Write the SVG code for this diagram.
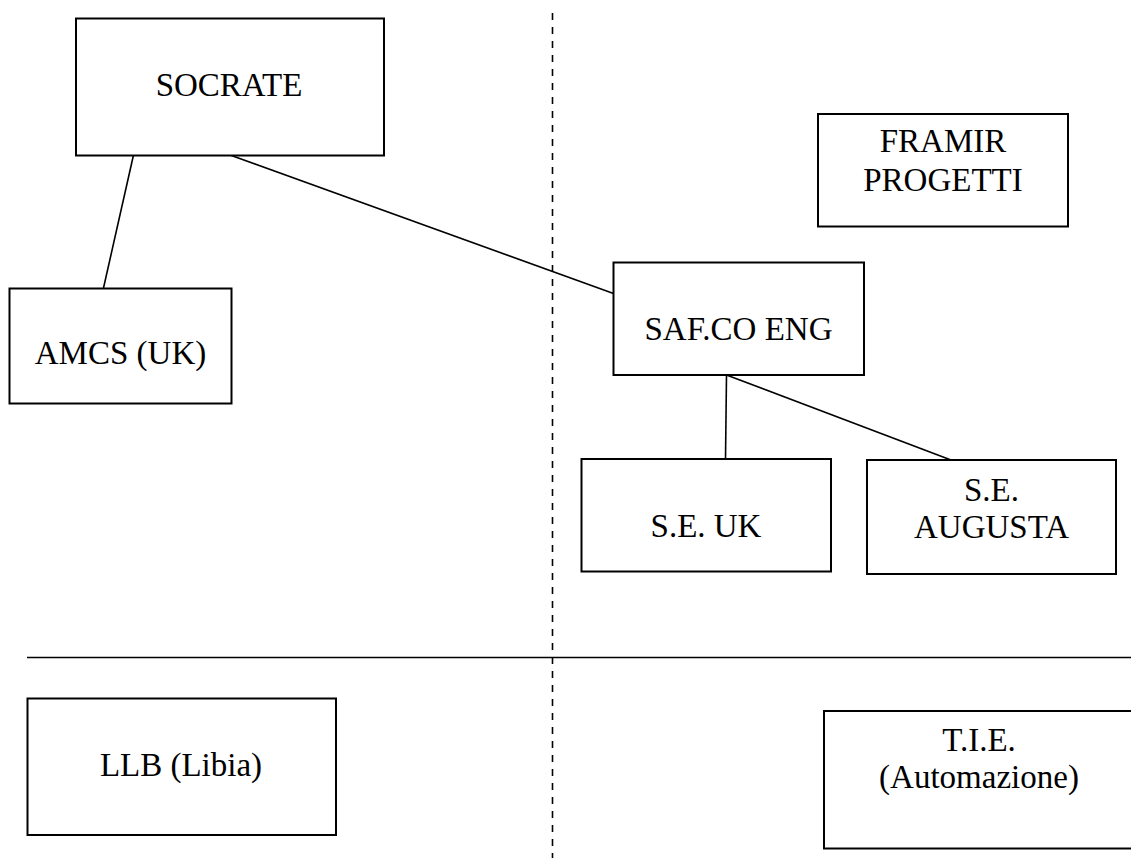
<svg xmlns="http://www.w3.org/2000/svg" width="1131" height="858" viewBox="0 0 1131 858">
  <style>
    .box { fill: #ffffff; stroke: #000000; stroke-width: 2; }
    .lbl { font-family: "Liberation Serif", "Times New Roman", serif; font-size: 33px; fill: #000000; text-anchor: middle; }
    .link { stroke: #000000; stroke-width: 1.6; fill: none; }
    .divider { stroke: #000000; stroke-width: 1.6; fill: none; }
    .dashed { stroke-dasharray: 7 7; }
  </style>

  <!-- quadrant dividers -->
  <g id="dividers">
    <line class="divider dashed" x1="552.5" y1="13" x2="552.5" y2="858"/>
    <line class="divider" x1="27" y1="657.5" x2="1131" y2="657.5"/>
  </g>

  <!-- connectors -->
  <g id="connectors">
    <line class="link" x1="133.5" y1="155" x2="103.5" y2="288"/>
    <line class="link" x1="230" y1="155" x2="613.5" y2="293.5"/>
    <line class="link" x1="726.5" y1="375" x2="725.5" y2="459"/>
    <line class="link" x1="726.5" y1="375" x2="951" y2="460"/>
  </g>

  <g id="socrate">
    <rect class="box" x="76" y="18.5" width="308" height="137"/>
    <text class="lbl" x="229" y="96">SOCRATE</text>
  </g>

  <g id="amcs">
    <rect class="box" x="9.5" y="288.5" width="222" height="115"/>
    <text class="lbl" x="120.5" y="364">AMCS (UK)</text>
  </g>

  <g id="framir">
    <rect class="box" x="818" y="114" width="250" height="112.5"/>
    <text class="lbl" x="943" y="151.5">FRAMIR</text>
    <text class="lbl" x="943" y="190.5">PROGETTI</text>
  </g>

  <g id="safco">
    <rect class="box" x="613.5" y="262.5" width="250.5" height="112.5"/>
    <text class="lbl" x="738.5" y="339.5">SAF.CO ENG</text>
  </g>

  <g id="se-uk">
    <rect class="box" x="581.5" y="459" width="249.5" height="112.5"/>
    <text class="lbl" x="706" y="536.5">S.E. UK</text>
  </g>

  <g id="se-augusta">
    <rect class="box" x="867" y="460" width="249" height="114"/>
    <text class="lbl" x="991.5" y="501">S.E.</text>
    <text class="lbl" x="991.5" y="538">AUGUSTA</text>
  </g>

  <g id="llb">
    <rect class="box" x="27.5" y="698.5" width="308.5" height="136.5"/>
    <text class="lbl" x="181" y="776">LLB (Libia)</text>
  </g>

  <g id="tie">
    <rect class="box" x="824" y="711" width="310" height="137.5"/>
    <text class="lbl" x="979" y="751">T.I.E.</text>
    <text class="lbl" x="979" y="788">(Automazione)</text>
  </g>
</svg>
